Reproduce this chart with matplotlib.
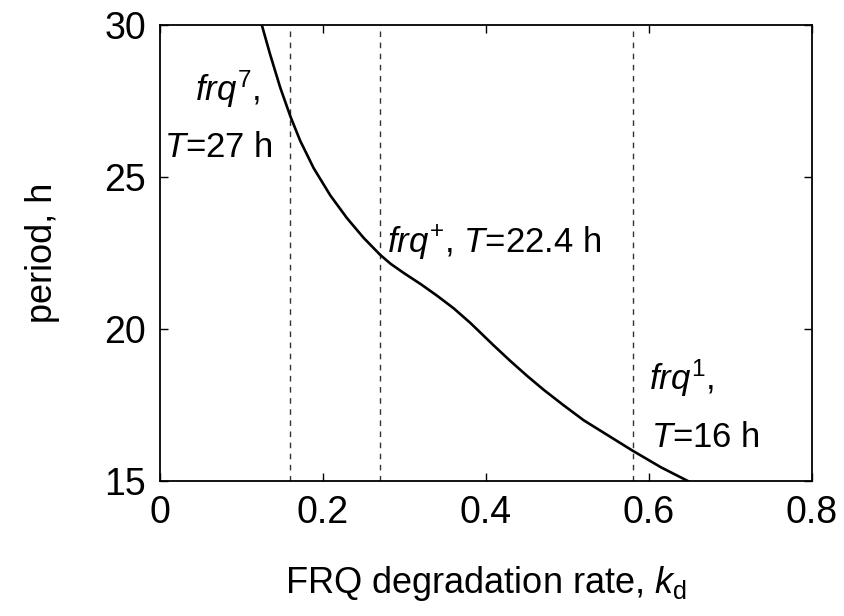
import matplotlib
matplotlib.use('Agg')
import matplotlib.pyplot as plt

plt.rcParams['font.family'] = ['Liberation Sans', 'DejaVu Sans']
plt.rcParams['mathtext.fontset'] = 'custom'
plt.rcParams['mathtext.rm'] = 'Liberation Sans'
plt.rcParams['mathtext.it'] = 'Liberation Sans:italic'

# period vs FRQ degradation rate
kd = [0.125, 0.135, 0.1475, 0.16, 0.172, 0.1885, 0.209, 0.2295, 0.25, 0.27,
      0.283, 0.299, 0.32, 0.34, 0.3606, 0.381, 0.41, 0.43, 0.451, 0.471,
      0.495, 0.52, 0.541, 0.58, 0.615, 0.648]
period = [30.0, 29.05, 27.95, 27.0, 26.2, 25.3, 24.4, 23.65, 23.0, 22.45,
          22.15, 21.85, 21.48, 21.1, 20.68, 20.2, 19.45, 18.95, 18.45, 18.0,
          17.5, 17.0, 16.65, 16.0, 15.45, 15.0]

# kd of the strains
strain_kd = [0.16, 0.27, 0.58]

fig = plt.figure(figsize=(8.44, 6.16), dpi=100)
ax = fig.add_axes([0.1896, 0.219, 0.7724, 0.740])

for x in strain_kd:
    ax.axvline(x, color='#333333', lw=1.0, ls=(0, (4, 4)))
ax.plot(kd, period, color='black', lw=1.9)

ax.set_xlim(0, 0.8)
ax.set_ylim(15, 30)
ax.set_xticks([0, 0.2, 0.4, 0.6, 0.8])
ax.set_xticklabels(['0', '0.2', '0.4', '0.6', '0.8'])
ax.set_yticks([15, 20, 25, 30])
ax.tick_params(direction='in', length=6, width=1.0, labelsize=27,
               top=True, right=True, pad=10)
for s in ax.spines.values():
    s.set_linewidth(1.3)

ax.set_xlabel(r'FRQ degradation rate, $k_{\mathrm{d}}$', fontsize=26, labelpad=24)
ax.set_ylabel('period, h', fontsize=26, labelpad=32)

fs = 25
ax.text(0.043, 27.53, r'$frq^{7}$,', fontsize=fs, va='baseline')
ax.text(0.0044, 25.67, r'$T$=27 h', fontsize=fs, va='baseline')
ax.text(0.279, 22.49, r'$frq^{+}$, $T$=22.4 h', fontsize=fs, va='baseline')
ax.text(0.600, 18.0, r'$frq^{1}$,', fontsize=fs, va='baseline')
ax.text(0.602, 16.13, r'$T$=16 h', fontsize=fs, va='baseline')

fig.savefig('out.png', dpi=100)
